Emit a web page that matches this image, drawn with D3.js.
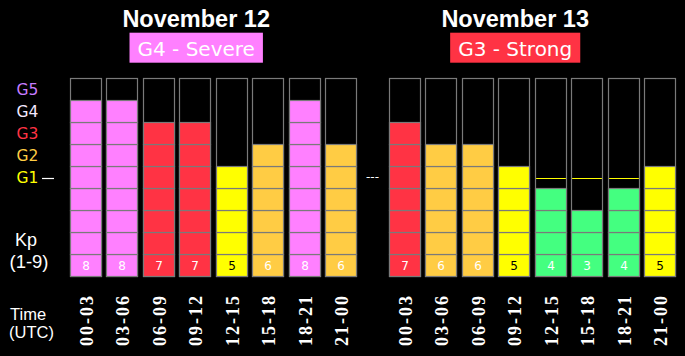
<!DOCTYPE html>
<html><head><meta charset="utf-8">
<script src="https://cdn.jsdelivr.net/npm/d3@7"></script>
<style>html,body{margin:0;padding:0;background:#000;}svg{display:block;}</style>
</head><body>
<script>
// ---- data ----
const days = ["November 12", "November 13"];
const dayStorm = ["G4 - Severe", "G3 - Strong"];
const periods = ["00-03", "03-06", "06-09", "09-12", "12-15", "15-18", "18-21", "21-00"];
const kpDay1 = [8, 8, 7, 7, 5, 6, 8, 6];
const kpDay2 = [7, 6, 6, 5, 4, 3, 4, 5];
const gLabels = ["G5", "G4", "G3", "G2", "G1"];
const gKp = [9, 8, 7, 6, 5];
const kpLevels = [1, 2, 3, 4, 5, 6, 7, 8, 9];

// ---- styles ----
const W = 685, H = 356;
const col = {pink: "#ff80ff", red: "#ff3344", orange: "#ffcc44", yellow: "#ffff00", green: "#44ff80", grid: "#7a7a7a"};
const kpColor = k => k >= 8 ? col.pink : k === 7 ? col.red : k === 6 ? col.orange : k === 5 ? col.yellow : col.green;
const stormColor = s => s.startsWith("G4") ? col.pink : s.startsWith("G3") ? col.red : s.startsWith("G2") ? col.orange : col.yellow;
const gColors = ["#c77cff", "#f4e8ff", "#ff3344", "#ffcc44", "#ffff00"];

const svg = d3.select("body").append("svg").attr("width", W).attr("height", H);
svg.append("rect").attr("width", W).attr("height", H).attr("fill", "#000");

const y = d3.scaleLinear().domain([0, 9]).range([276.5, 78.5]);
const dayRanges = [[69.5, 356.5], [388.5, 675.5]];
const dayData = [kpDay1, kpDay2];

dayData.forEach((kps, di) => {
  const x = d3.scaleBand().domain(periods).range(dayRanges[di]).paddingInner(0.152).paddingOuter(0);
  const g = svg.append("g");
  const x0 = dayRanges[di][0], x1 = dayRanges[di][1];
  const cx = x0 + (x1 - x0) * 0.4415;

  // title
  g.append("text").attr("x", cx).attr("y", 26.5).attr("text-anchor", "middle")
    .attr("font-family", "'Liberation Sans', Arial, sans-serif").attr("font-weight", "bold")
    .attr("font-size", 23.5).attr("fill", "#fff").text(days[di]);
  // badge
  const bt = g.append("text").attr("x", cx).attr("y", 56).attr("text-anchor", "middle")
    .attr("font-family", "'DejaVu Sans', Verdana, sans-serif").attr("font-size", 20)
    .attr("fill", "#fff").text(dayStorm[di]);
  const bw = bt.node().getComputedTextLength() + 16;
  g.insert("rect", "text:last-child").attr("x", cx - bw / 2).attr("y", 32.7).attr("width", bw).attr("height", 30)
    .attr("fill", stormColor(dayStorm[di]));
  bt.raise();

  periods.forEach((p, i) => {
    const k = kps[i];
    const bx = Math.round(x(p)) + 0.5;
    const bwid = Math.round(x.bandwidth());
    // outline
    g.append("rect").attr("x", bx).attr("y", y(9)).attr("width", bwid).attr("height", y(0) - y(9))
      .attr("fill", "#000").attr("stroke", col.grid).attr("stroke-width", 1.2);
    // filled cells
    kpLevels.filter(l => l <= k).forEach(l => {
      g.append("rect").attr("x", bx).attr("y", y(l)).attr("width", bwid).attr("height", y(l - 1) - y(l))
        .attr("fill", kpColor(k)).attr("stroke", col.grid).attr("stroke-width", 1.2);
    });
    // G1 threshold line for sub-storm bars
    if (k < 5) {
      g.append("line").attr("x1", bx + 0.6).attr("x2", bx + bwid - 0.6)
        .attr("y1", Math.round(y(4.5)) + 0.5).attr("y2", Math.round(y(4.5)) + 0.5)
        .attr("stroke", col.yellow).attr("stroke-width", 1);
    }
    // value label
    g.append("text").attr("x", bx + bwid / 2).attr("y", 270).attr("text-anchor", "middle")
      .attr("font-family", "'DejaVu Sans', Verdana, sans-serif").attr("font-size", 12)
      .attr("fill", k === 5 ? "#000" : "#fff").text(k);
    // time label
    g.append("text").attr("transform", `translate(${bx + bwid / 2 + 7},321) rotate(-90)`)
      .attr("text-anchor", "middle")
      .attr("font-family", "'Liberation Serif', 'Times New Roman', serif").attr("font-weight", "bold")
      .attr("font-size", 18).attr("textLength", 50).attr("lengthAdjust", "spacing")
      .attr("fill", "#fff").text(p);
  });
});

// left G scale labels
gLabels.forEach((gl, i) => {
  svg.append("text").attr("x", 16.5).attr("y", (y(gKp[i]) + y(gKp[i] - 1)) / 2 + 5.6)
    .attr("font-family", "'DejaVu Sans', Verdana, sans-serif").attr("font-size", 15.5)
    .attr("fill", gColors[i]).text(gl);
});
// G1 dash
svg.append("line").attr("x1", 42).attr("x2", 54).attr("y1", Math.round(y(4.5)) + 0.5).attr("y2", Math.round(y(4.5)) + 0.5)
  .attr("stroke", "#fff").attr("stroke-width", 1.2);
// between-days dash
svg.append("text").attr("x", 372.5).attr("y", 180.5).attr("text-anchor", "middle")
  .attr("font-family", "'DejaVu Sans', Verdana, sans-serif").attr("font-size", 12)
  .attr("fill", "#fff").text("---");

// Kp label
svg.append("text").attr("x", 26).attr("y", 246).attr("text-anchor", "middle")
  .attr("font-family", "'Liberation Sans', Arial, sans-serif").attr("font-size", 18)
  .attr("fill", "#fff").text("Kp");
svg.append("text").attr("x", 29).attr("y", 268).attr("text-anchor", "middle")
  .attr("font-family", "'Liberation Sans', Arial, sans-serif").attr("font-size", 18.5)
  .attr("fill", "#fff").text("(1-9)");
// Time label
svg.append("text").attr("x", 10).attr("y", 320).attr("font-family", "'Liberation Sans', Arial, sans-serif")
  .attr("font-size", 16.5).attr("fill", "#fff").text("Time");
svg.append("text").attr("x", 9).attr("y", 337.5).attr("font-family", "'Liberation Sans', Arial, sans-serif")
  .attr("font-size", 16.5).attr("fill", "#fff").text("(UTC)");
</script>
</body></html>
